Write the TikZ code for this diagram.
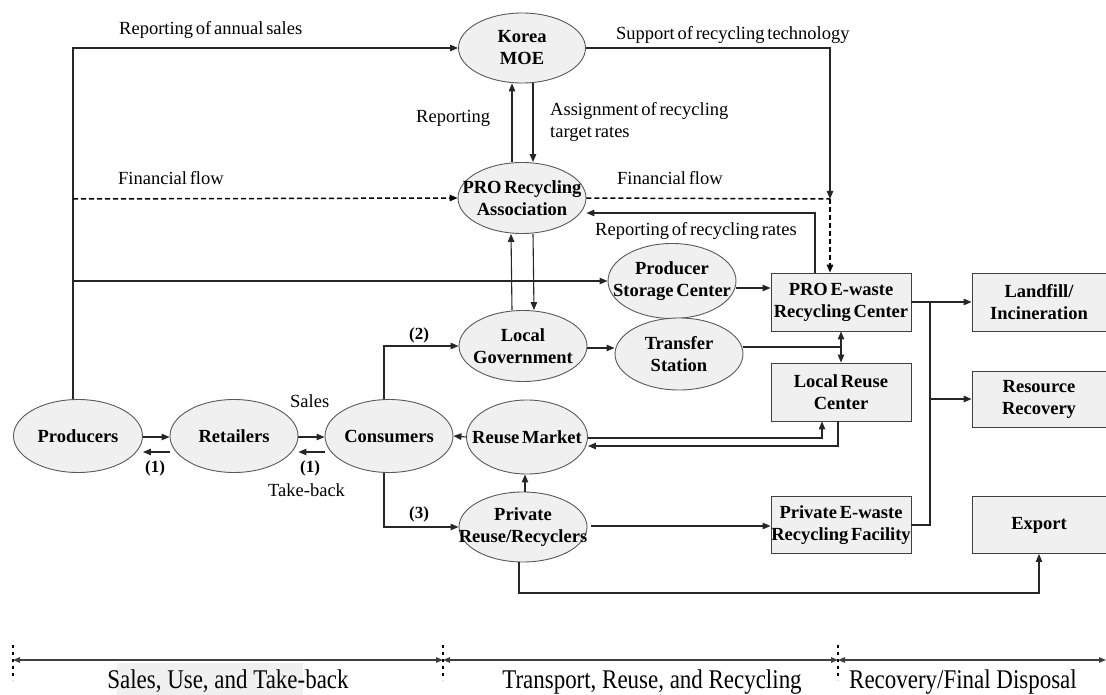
\documentclass[tikz,border=0pt]{standalone}
\usepackage{fontspec}
\setmainfont{Liberation Serif}
\newfontfamily\lblfont{Liberation Serif}[WordSpace=0.6]
\newfontfamily\tlfont{Liberation Serif}[FakeStretch=0.85]
\usetikzlibrary{shapes.geometric,arrows.meta,calc}
\begin{document}
\begin{tikzpicture}[x=1pt,y=-1pt,
 ell/.style={ellipse,draw=black!65,fill=black!6,line width=0.9pt,inner sep=0pt,minimum width=128pt,minimum height=71pt},
 box/.style={rectangle,draw=black!75,fill=black!6,line width=0.9pt,inner sep=0pt,minimum width=140pt,minimum height=58pt},
 rbox/.style={box,minimum width=134pt},
 ntext/.style={font=\fontsize{18.5}{22}\selectfont\bfseries\lblfont,align=center,inner sep=0pt},
 lbl/.style={font=\fontsize{18.5}{22}\selectfont\lblfont,inner sep=0pt,anchor=west,align=left},
 num/.style={font=\fontsize{17}{20}\selectfont\bfseries,inner sep=0pt},
 tltext/.style={font=\fontsize{27}{28}\selectfont\tlfont,inner sep=0pt,anchor=base},
 ln/.style={draw=black!85,line width=1.1pt},
 tip/.tip={Triangle[length=8pt,width=6.5pt]},
 stip/.tip={Triangle[length=7pt,width=5.5pt]},
 arr/.style={ln,-tip},
 darr/.style={ln,tip-tip},
 tlarr/.style={draw=black!75,line width=1.2pt,stip-stip},
 dasharr/.style={ln,draw=black,line width=1.5pt,-tip,dash pattern=on 5pt off 3pt},
 dln/.style={ln,draw=black,line width=1.5pt,dash pattern=on 5pt off 3pt},
 marker/.style={draw=black,line width=2.5pt,dash pattern=on 3pt off 4pt},
]
\useasboundingbox (0,0) rectangle (1106,695);

% ---------- ellipses ----------
\node[ell,minimum width=127pt,minimum height=70pt] (moe) at (522,48) {};
\node[ntext] (moet) at (moe) {Korea\\MOE};
\node[ell] (pra) at (522,198) {};
\node[ntext] (prat) at (pra) {PRO Recycling\\Association};
\node[ell,minimum height=75pt] (psc) at (672,281) {};
\node[ntext] (psct) at (psc) {Producer\\Storage Center};
\node[ell] (lg) at (523,346) {};
\node[ntext] (lgt) at (lg) {Local\\Government};
\node[ell,minimum height=72pt] (ts) at (679,354) {};
\node[ntext] (tst) at (ts) {Transfer\\Station};
\node[ell,minimum width=129pt,minimum height=73pt] (prod) at (78,436) {};
\node[ntext] (prodt) at (prod) {Producers};
\node[ell,minimum height=73pt] (ret) at (234,436) {};
\node[ntext] (rett) at (ret) {Retailers};
\node[ell,minimum height=73pt] (con) at (389,436) {};
\node[ntext] (cont) at (con) {Consumers};
\node[ell,minimum width=121pt,minimum height=74pt] (rm) at (527,437) {};
\node[ntext] (rmt) at (rm) {Reuse Market};
\node[ell,minimum height=70pt] (pri) at (523,527) {};
\node[ntext] (prit) at (pri) {Private\\Reuse/Recyclers};

% ---------- boxes ----------
\node[box] (pec) at (841,302) {};
\node[ntext] (pect) at (pec) {PRO E-waste\\Recycling Center};
\node[rbox] (lf) at (1039,302) {};
\node[ntext] (lft) at (lf) {Landfill/\\Incineration};
\node[box] (lrc) at (841,392) {};
\node[ntext] (lrct) at (lrc) {Local Reuse\\Center};
\node[rbox,minimum height=56pt] (rr) at (1039,399) {};
\node[ntext] (rrt) at (rr) {Resource\\Recovery};
\node[box,minimum height=57pt] (pef) at (841,525) {};
\node[ntext] (peft) at (pef) {Private E-waste\\Recycling Facility};
\node[rbox,minimum height=57pt] (exp) at (1039,525) {};
\node[ntext] (expt) at (exp) {Export};

% ---------- coordinates ----------
\coordinate (trunk) at ($(prod.north)+(-5,0)$);
\coordinate (fin) at (73,199);
\coordinate (psl) at (73,281);
\coordinate (j1) at (830,199);
\coordinate (r1) at (815,213);
\coordinate (v1) at (930,302);
\coordinate (bot) at (519,593);
\coordinate (a1) at ($(psc.east)+(0,7)$);
\coordinate (a2) at ($(lg.east)+(0,2)$);
\coordinate (a3) at ($(ts.east)+(0,-7)$);
\coordinate (a4) at ($(pri.east)+(4,-1)$);
\coordinate (a5) at ($(rm.east)+(0,1)$);
\coordinate (a6) at ($(rm.east)+(0,9)$);
\coordinate (a7) at ($(lrc.south)+(-19,0)$);
\coordinate (a8) at ($(lrc.south)+(-3,0)$);

% ---------- connectors ----------
\draw[arr] (trunk) |- (moe.west);
\draw[dasharr] (fin) -- (pra.west);
\draw[arr] (psl) -- (psc.west);

\draw[arr] ($(pra.north)+(-10,0)$) -- ($(moe.south)+(-10,0)$);
\draw[arr] ($(moe.south)+(11,0)$) -- ($(pra.north)+(11,0)$);
\draw[arr] ($(lg.north)+(-11,0)$) -- ($(pra.south)+(-11,0)$);
\draw[arr] ($(pra.south)+(11,0)$) -- ($(lg.north)+(11,0)$);

\draw[arr] (moe.east) -| (j1);
\draw[dln] (pra.east) -- (j1);
\draw[dasharr] (j1) -- (j1 |- pec.north);
\draw[arr] (r1 |- pec.north) -- (r1) -- (r1 -| pra.east);

\draw[arr] (a1) -- (a1 -| pec.west);

\draw[arr] ($(con.north)+(-5,0)$) |- (lg.west);
\draw[arr] ($(con.south)+(-5,0)$) |- (pri.west);
\draw[arr] (a2) -- (a2 -| ts.west);
\draw[ln] (a3) -- (a3 -| pec.south);
\draw[darr] (pec.south) -- (lrc.north);

\draw[arr] (a5) -| (a7);
\draw[arr] (a8) |- (a6);
\draw[arr] (rm.west) -- (con.east);
\draw[arr] ($(pri.north)+(2,0)$) -- ($(rm.south)+(-2,0)$);
\draw[arr] (a4) -- (a4 -| pef.west);
\draw[arr] ($(pri.south)+(-4,0)$) -- (bot) -| (exp.south);

\draw[arr] (pec.east) -- (lf.west);
\draw[ln] (pef.east) -| (v1);
\draw[arr] (v1 |- rr.west) -- (rr.west);

\draw[arr] ($(prod.east)+(0,1)$) -- ($(ret.west)+(0,1)$);
\draw[arr] ($(ret.west)+(0,16)$) -- ($(prod.east)+(0,16)$);
\draw[arr] ($(ret.east)+(0,1)$) -- ($(con.west)+(0,1)$);
\draw[arr] ($(con.west)+(0,16)$) -- ($(ret.east)+(0,16)$);

% ---------- labels ----------
\node[lbl] (l1) at (119,30) {Reporting of annual sales};
\node[lbl] (l2) at (616,35) {Support of recycling technology};
\node[lbl] (l3) at (416,118) {Reporting};
\node[lbl] (l4) at (550,122) {Assignment of recycling\\target rates};
\node[lbl] (l5) at (118,178) {Financial flow};
\node[lbl] (l6) at (617,178) {Financial flow};
\node[lbl] (l7) at (595,231) {Reporting of recycling rates};
\node[lbl] (l8) at (290,401) {Sales};
\node[lbl] (l9) at (268,490) {Take-back};
\node[num] (n1) at (155,468) {(1)};
\node[num] (n2) at (310,468) {(1)};
\node[num] (n3) at (419,335) {(2)};
\node[num] (n4) at (419,514) {(3)};

% ---------- timeline ----------
\fill[black!6] (117,663) rectangle (303,695);
\coordinate (t0) at (13,660);
\coordinate (t1) at (443,660);
\coordinate (t2) at (838,660);
\coordinate (t3) at (1106,660);
\draw[tlarr] (t0) -- (t1);
\draw[tlarr] (t1) -- (t2);
\draw[tlarr] (t2) -- (t3);
\draw[marker] (13,645) -- (13,680);
\draw[marker] (443,645) -- (443,680);
\draw[marker] (838,645) -- (838,680);
\node[tltext] (s1) at (228,688) {Sales, Use, and Take-back};
\node[tltext] (s2) at (652,688) {Transport, Reuse, and Recycling};
\node[tltext] (s3) at (963,688) {Recovery/Final Disposal};
\end{tikzpicture}
\end{document}
